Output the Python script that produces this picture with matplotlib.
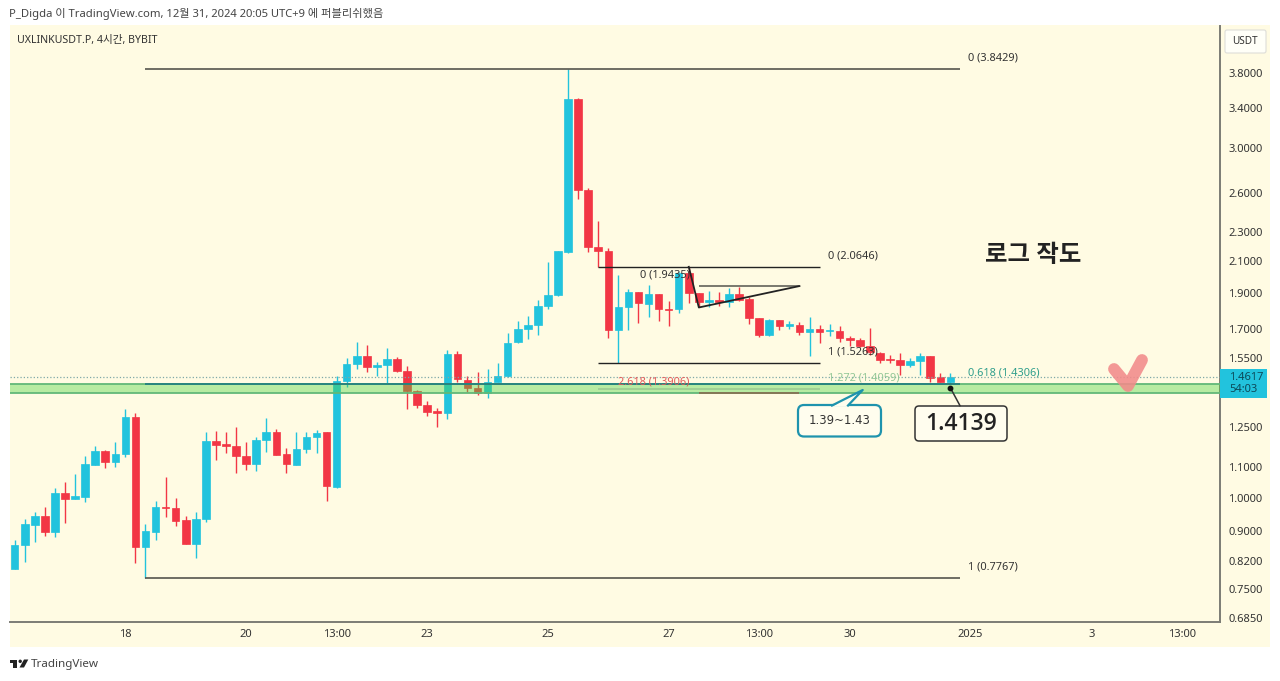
import matplotlib
matplotlib.use("Agg")
import matplotlib.pyplot as plt
from matplotlib.patches import Rectangle, FancyBboxPatch, Polygon, Circle
from matplotlib.ticker import NullLocator

plt.rcParams["font.family"] = ["Noto Sans", "Noto Sans CJK KR", "DejaVu Sans"]

# 4h candles (log price scale)
opens = [.800, .862, .918, .945, .898, 1.013, .996, 1.003, 1.108, 1.156, 1.118, 1.147, 1.287, .857, .898, .972,
         .969, .931, .865, .935, 1.194, 1.182, 1.175, 1.138, 1.110, 1.198, 1.227, 1.145, 1.108, 1.165, 1.208, 1.227,
         1.034, 1.443, 1.521, 1.560, 1.508, 1.515, 1.545, 1.488, 1.398, 1.337, 1.312, 1.304, 1.569, 1.449, 1.410, 1.390,
         1.440, 1.465, 1.628, 1.696, 1.720, 1.824, 1.889, 2.161, 3.497, 2.631, 2.198, 2.171, 1.694, 1.820, 1.908, 1.837,
         1.893, 1.809, 1.806, 2.022, 1.899, 1.851, 1.863, 1.847, 1.894, 1.869, 1.757, 1.666, 1.748, 1.713, 1.720, 1.683,
         1.699, 1.686, 1.686, 1.650, 1.641, 1.611, 1.577, 1.546, 1.540, 1.516, 1.537, 1.561, 1.459, 1.438]
highs = [.875, .936, .955, .972, 1.031, 1.051, 1.077, 1.139, 1.177, 1.163, 1.191, 1.320, 1.305, .920, .988, 1.068,
         .998, .945, .957, 1.227, 1.231, 1.228, 1.248, 1.189, 1.210, 1.283, 1.240, 1.167, 1.227, 1.228, 1.236, 1.227,
         1.465, 1.551, 1.628, 1.613, 1.529, 1.599, 1.556, 1.511, 1.401, 1.353, 1.324, 1.588, 1.586, 1.465, 1.484, 1.500,
         1.525, 1.675, 1.744, 1.768, 1.859, 2.096, 2.168, 3.843, 3.509, 2.645, 2.384, 2.189, 2.011, 1.923, 1.908, 1.953,
         1.893, 1.853, 2.032, 2.064, 1.899, 1.912, 1.908, 1.932, 1.938, 1.879, 1.757, 1.752, 1.748, 1.741, 1.737, 1.764,
         1.719, 1.724, 1.717, 1.661, 1.652, 1.701, 1.581, 1.563, 1.576, 1.548, 1.573, 1.561, 1.480, 1.480]
lows = [.798, .817, .870, .887, .884, .924, .996, .985, 1.108, 1.097, 1.100, 1.137, .815, .777, .875, .940,
        .914, .865, .828, .925, 1.127, 1.151, 1.080, 1.090, 1.088, 1.154, 1.142, 1.081, 1.108, 1.150, 1.149, .990,
        1.030, 1.416, 1.500, 1.483, 1.465, 1.434, 1.483, 1.320, 1.326, 1.293, 1.249, 1.280, 1.438, 1.393, 1.380, 1.368,
        1.436, 1.459, 1.626, 1.646, 1.667, 1.811, 1.881, 2.153, 2.555, 2.163, 2.065, 1.652, 1.526, 1.692, 1.728, 1.761,
        1.740, 1.714, 1.783, 1.840, 1.820, 1.820, 1.828, 1.820, 1.855, 1.724, 1.657, 1.662, 1.692, 1.696, 1.667, 1.560,
        1.626, 1.661, 1.631, 1.610, 1.606, 1.564, 1.524, 1.524, 1.472, 1.505, 1.469, 1.438, 1.436, 1.434]
closes = [.863, .920, .945, .898, 1.013, .996, 1.004, 1.111, 1.156, 1.118, 1.147, 1.288, .857, .899, .970, .969,
          .930, .865, .935, 1.194, 1.180, 1.175, 1.138, 1.110, 1.198, 1.227, 1.144, 1.110, 1.165, 1.208, 1.226, 1.037,
          1.442, 1.521, 1.560, 1.508, 1.516, 1.545, 1.488, 1.397, 1.337, 1.309, 1.304, 1.569, 1.451, 1.410, 1.387, 1.440,
          1.466, 1.626, 1.696, 1.720, 1.824, 1.889, 2.168, 3.494, 2.631, 2.198, 2.173, 1.694, 1.820, 1.908, 1.840, 1.893,
          1.806, 1.803, 2.022, 1.899, 1.847, 1.863, 1.847, 1.894, 1.863, 1.757, 1.664, 1.748, 1.715, 1.723, 1.681, 1.697,
          1.683, 1.692, 1.649, 1.643, 1.611, 1.581, 1.540, 1.540, 1.516, 1.537, 1.561, 1.457, 1.438, 1.462]

price_ticks = [3.8, 3.4, 3.0, 2.6, 2.3, 2.1, 1.9, 1.7, 1.55, 1.25, 1.1, 1.0, 0.9, 0.82, 0.75, 0.685]
time_ticks = [11, 23, 32, 41, 53, 65, 74, 83, 95, 107, 116]
time_labels = ["18", "20", "13:00", "23", "25", "27", "13:00", "30", "2025", "3", "13:00"]

wedge_x = [67, 68, 78]
wedge_y = [2.0646, 1.817, 1.9435]
zone_low, zone_high = 1.3906, 1.4306
last_price = 1.4617

BLUE = "#22C3DD"
RED = "#F23645"
CREAM = "#FFFBE3"
INK = "#333333"
LINE = "#55554E"

fig = plt.figure(figsize=(12.8, 6.81), dpi=100, facecolor="white")
fig.patches.append(Rectangle((10 / 1280, 1 - 647 / 681), 1260 / 1280, 622 / 681, zorder=-1,
                             transform=fig.transFigure, facecolor=CREAM, edgecolor="none"))

ax = fig.add_axes([10 / 1280, 1 - 621.5 / 681, 1210 / 1280, 595.5 / 681])
ax.set_facecolor(CREAM)
ax.set_yscale("log")

# candles
for i in range(len(opens)):
    c = BLUE if closes[i] >= opens[i] else RED
    ax.vlines(i, lows[i], highs[i], color=c, linewidth=1.0, zorder=2)
    low, high = min(opens[i], closes[i]), max(opens[i], closes[i])
    ax.bar(i, high - low, bottom=low, width=0.75, color=c, edgecolor=c, linewidth=0.5, zorder=2)

# support zone
ax.axhspan(zone_low, zone_high, facecolor="#4DD341", alpha=0.4, edgecolor="none", zorder=3)
ax.axhline(zone_high, color="#62B878", linewidth=1.3, zorder=3)
ax.axhline(zone_low, color="#62B878", linewidth=1.3, zorder=3)
ax.axhline(last_price, color="#7FA8A8", linewidth=0.9, linestyle=":", zorder=3)

# fib levels
ax.hlines([3.8429, 0.7767], 13, 94, color=LINE, linewidth=1.2, zorder=4)
ax.hlines(zone_high, 13, 94, color="#16757F", linewidth=1.1, zorder=4)
ax.hlines([2.0646, 1.5263], 58, 80, color="#222222", linewidth=1.0, zorder=4)
ax.hlines(1.4059, 58, 80, color="#9CCB92", linewidth=1.2, zorder=4)
ax.hlines(1.9435, 68, 78, color=LINE, linewidth=1.1, zorder=4)
ax.hlines(zone_low, 68, 78, color="#8A6A50", linewidth=1.2, zorder=4)
ax.plot(wedge_x, wedge_y, color="#222222", linewidth=1.3, zorder=4)


def fib_label(x, price, text, color=INK, dy=11):
    ax.annotate(text, xy=(x, price), xytext=(0, dy), textcoords="offset pixels",
                fontsize=7.9, color=color, va="center", ha="left", zorder=5)


fib_label(94.8, 3.8429, "0 (3.8429)")
fib_label(94.8, 0.7767, "1 (0.7767)")
fib_label(94.8, 1.4306, "0.618 (1.4306)", color="#2E9E8C")
fib_label(80.8, 2.0646, "0 (2.0646)")
fib_label(80.8, 1.5263, "1 (1.5263)")
fib_label(80.8, 1.4059, "1.272 (1.4059)", color="#93C797")
fib_label(62.2, 1.9435, "0 (1.9435)")
fib_label(60, 1.3906, "2.618 (1.3906)", color="#E25B5B")

# axes
for s in ["top", "left"]:
    ax.spines[s].set_visible(False)
for s in ["bottom", "right"]:
    ax.spines[s].set_color("#7C7C74")
    ax.spines[s].set_linewidth(1.4)
ax.yaxis.tick_right()
ax.yaxis.set_minor_locator(NullLocator())
ax.set_yticks(price_ticks)
ax.set_yticklabels(["%.4f" % p for p in price_ticks])
ax.set_xticks(time_ticks)
ax.set_xticklabels(time_labels)
ax.tick_params(axis="y", length=0, pad=6, labelsize=8, labelcolor=INK)
ax.tick_params(axis="x", length=0, pad=5.5, labelsize=8, labelcolor=INK)
ax.set_xlim(-0.467, 119.8)
ax.set_ylim(0.6776, 4.399)

# everything else is placed in screen pixels
ov = fig.add_axes([0, 0, 1, 1], zorder=10)
ov.set_xlim(0, 1280)
ov.set_ylim(681, 0)
ov.axis("off")

ov.text(9, 14, "P_Digda 이 TradingView.com, 12월 31, 2024 20:05 UTC+9 에 퍼블리쉬했음",
        fontsize=8.1, color="#444444", va="center")
ov.text(17, 40, "UXLINKUSDT.P, 4시간, BYBIT", fontsize=7.65, color=INK, va="center")
ov.text(985, 256, "로그 작도", fontsize=17.6, fontweight="bold", color="#222222", va="center")

ov.add_patch(FancyBboxPatch((1225, 30), 41, 23, boxstyle="round,pad=0,rounding_size=2",
                            facecolor="#FFFFF8", edgecolor="#DDDDD8", linewidth=0.8))
ov.text(1245, 41.5, "USDT", fontsize=7.2, color=INK, va="center", ha="center")

# last price tag
ov.add_patch(Rectangle((1220, 369), 47, 28.5, facecolor=BLUE, edgecolor="none"))
ov.text(1229, 377, "%.4f" % last_price, fontsize=8, color="#0C4A5A", va="center")
ov.text(1229, 390, "54:03", fontsize=8, color="#0C4A5A", va="center")

# check mark
ov.plot([1114, 1128, 1142], [369, 386, 360], color="#F28A8A", linewidth=8.5, alpha=0.88,
        solid_capstyle="round", solid_joinstyle="round")

# callout 1.39~1.43
ov.add_patch(FancyBboxPatch((798, 405), 83, 31.5, boxstyle="round,pad=0,rounding_size=6",
                            facecolor="#FFFDEE", edgecolor="#1E93AD", linewidth=1.6))
ov.add_patch(Polygon([(832, 406.5), (862.7, 390), (848, 406.5)], facecolor="#FFFDEE", edgecolor="none"))
ov.plot([832, 862.7, 848], [405.5, 390, 405.5], color="#1E93AD", linewidth=1.6)
ov.text(839.5, 420.5, "1.39~1.43", fontsize=8.4, family="DejaVu Sans", color=INK, va="center", ha="center")

# callout 1.4139
ov.add_patch(FancyBboxPatch((915, 406), 92, 35, boxstyle="round,pad=0,rounding_size=4",
                            facecolor="#FFFDEE", edgecolor="#333333", linewidth=1.1))
ov.text(961, 423.5, "1.4139", fontsize=16.5, family="Open Sans", color="#222222", va="center", ha="center",
        fontweight="semibold")
ov.plot([950.3, 960], [387.7, 405.7], color="#333333", linewidth=1.1)
ov.plot([950.3], [387.7], marker="o", markersize=3.2, color="#111111")

# TradingView footer
ov.add_patch(Polygon([(9.5, 659.5), (17, 659.5), (17, 667.5), (12.7, 667.5), (12.7, 662.8), (9.5, 662.8)],
                     facecolor="#222222", edgecolor="none"))
ov.add_patch(Circle((20.2, 661.3), 1.7, facecolor="#222222", edgecolor="none"))
ov.add_patch(Polygon([(24, 659.5), (28.3, 659.5), (24, 667.5), (19.5, 667.5)], facecolor="#222222", edgecolor="none"))
ov.text(31, 664, "TradingView", fontsize=8.4, color="#444444", va="center")

fig.savefig("out.png", dpi=100)
